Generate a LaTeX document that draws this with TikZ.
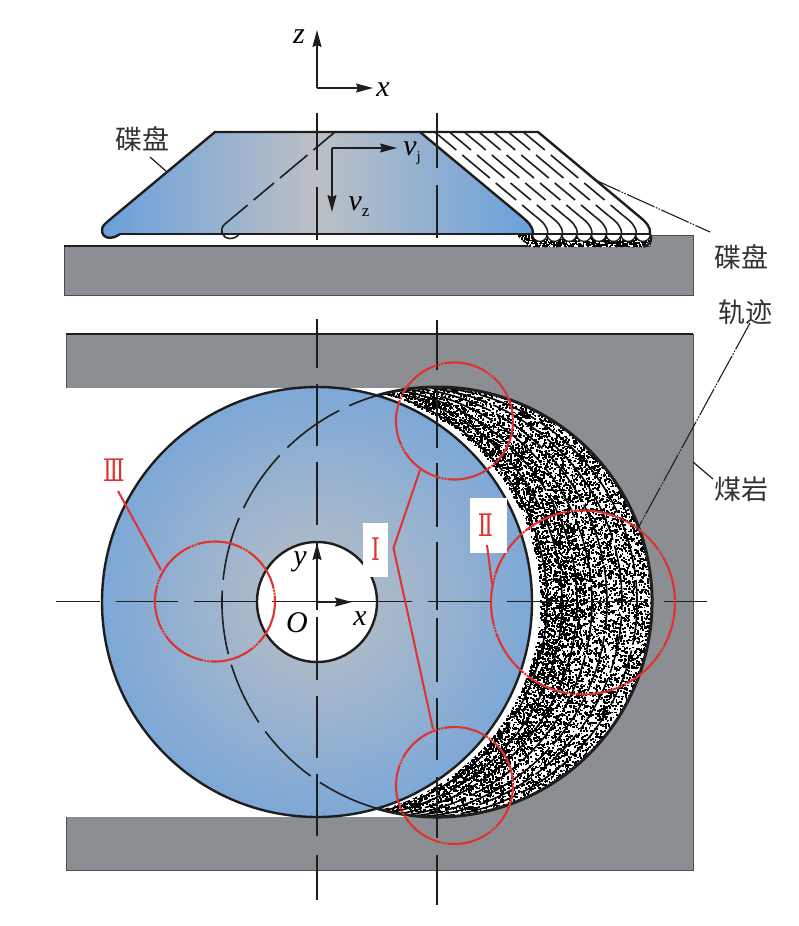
\documentclass[tikz,border=0pt]{standalone}
\usepackage{fontspec}
\setmainfont{Liberation Serif}
\newfontfamily\cjk{Noto Sans CJK SC}
\newfontfamily\romanfont{DejaVu Serif}
\usetikzlibrary{arrows.meta}
\definecolor{rockgray}{RGB}{139,142,147}
\definecolor{discblue}{RGB}{105,160,220}
\definecolor{discgray}{RGB}{188,192,197}
\definecolor{redmark}{RGB}{224,50,46}
\definecolor{inkc}{RGB}{30,30,30}
\pgfdeclareradialshading{discshade}{\pgfpointorigin}{color(0bp)=(discgray); color(33bp)=(discblue); color(50bp)=(discblue)}
\newcommand{\speck}[3]{\pgfpathrectangle{\pgfqpoint{#1pt}{-#2pt}}{\pgfqpoint{#3pt}{#3pt}}\pgfusepathqfill}
\newcommand{\romanmark}[1]{\scalebox{0.72}[1]{\romanfont #1}}
\tikzset{
  x=1pt,y=-1pt,
  axisline/.style={inkc,line width=1.5pt},
  outline/.style={inkc,line width=2.4pt,line join=round},
  thinedge/.style={inkc,line width=1.6pt},
  arrowline/.style={inkc,line width=1.4pt,-{Stealth[length=17pt,width=9pt,inset=2pt]}},
  redring/.style={redmark,line width=2.1pt,dash pattern=on 46pt off 1pt on 2pt off 1pt on 2pt off 1pt},
  redlead/.style={redmark,line width=2pt},
  leaderdd/.style={inkc,line width=1.1pt,dash pattern=on 30pt off 1.5pt on 1.5pt off 1.5pt on 1.5pt off 1.5pt},
  cjklabel/.style={font=\cjk\fontsize{27}{27}\selectfont,text=black!80,inner sep=0pt},
  redlabel/.style={font=\fontsize{31}{31}\selectfont,text=redmark,inner sep=0pt},
  varlabel/.style={font=\itshape\fontsize{30}{30}\selectfont,text=black,inner sep=0pt},
}
\begin{document}
\begin{tikzpicture}
\useasboundingbox[fill=white] (0,0) rectangle (799,926);

% ---------- side view: rock
\fill[rockgray,draw=black!70,line width=0.8pt] (64,246) -- (650,246) -- (650,235) -- (693,235) -- (693,295) -- (64,295) -- cycle;
\draw[outline] (64,246) -- (645,246);

% cut stipple under the disc
\begin{scope}
\clip (515,234) -- (650,234) -- (652,240) -- (645,247) -- (530,247) -- cycle;
\fill[white] (510,230) rectangle (655,250);
\pgfmathsetseed{11}
\pgfsetfillcolor{black}
\foreach \i in {1,...,900}{
  \pgfmathsetmacro\px{518+134*rnd}
  \pgfmathsetmacro\py{236+13*rnd}
  \speck{\px}{\py}{1.6}
}
\end{scope}
\draw[outline] (650,234) .. controls (653,240) and (650,246) .. (643,246.5);
\foreach \k in {1,...,8}{
  \pgfmathsetmacro\cx{525+14.75*\k}
  \draw[inkc,line width=1.3pt,fill=white] (\cx-7.4,234) arc[start angle=180,end angle=0,radius=7.4];
}
% successive disc positions
\foreach \k in {1,...,7}{
  \pgfmathsetmacro\s{420+14.75*\k}
  \foreach \ya/\yb in {132/150,155/178,183/200,205/216}{
    \draw[thinedge] ({\s+(\ya-132)*1.196},\ya) -- ({\s+(\yb-132)*1.196},\yb);
  }
  \draw[thinedge] ({\s+100.5},216) .. controls ({\s+108},222) and ({\s+113},226) .. ({\s+113},234);
}
\draw[outline] (420,132) -- (538,132) -- (638,215.5) .. controls (646,222) and (651,227) .. (650,234);

% main disc, side view
\shade[left color=discblue,right color=discblue,middle color=discgray]
  (215,132) -- (420,132) -- (521,216) .. controls (528,222) and (533,226) .. (533,234) -- (120,234)
  .. controls (112,240) and (102,239) .. (102,230) .. controls (102,226) and (105,224) .. (107,222) -- cycle;
\draw[outline] (107,222) -- (215,132) -- (420,132) -- (521,216) .. controls (528,222) and (533,226) .. (533,234);
\draw[outline] (120,234) .. controls (112,240) and (102,239) .. (102,230) .. controls (102,226) and (105,224) .. (107,222);
\draw[outline] (120,234) -- (650,234);

% hidden disc edge, side view
\foreach \ya/\yb in {132/150,155/178,183/200,205/225}{
  \draw[thinedge] ({335-(\ya-132)*1.196},\ya) -- ({335-(\yb-132)*1.196},\yb);
}
\draw[thinedge] (223.6,225) .. controls (220,229) and (221,238) .. (230,238.5) .. controls (234,238.5) and (237,237) .. (239,234);

% side view velocities
\coordinate (vorig) at (332,148);
\coordinate (vjtip) at (397,148);
\coordinate (vztip) at (332,212);
\draw[arrowline] (vorig) -- (vjtip);
\draw[arrowline] (vorig) -- (vztip);
\node[varlabel] (vj) at (412,153) {v\raisebox{-6pt}{\upshape\fontsize{15}{15}\selectfont j}};
\node[varlabel] (vz) at (359,207) {v\raisebox{-6pt}{\upshape\fontsize{17}{17}\selectfont z}};

% top axes
\coordinate (axo) at (317,88);
\coordinate (axz) at (317,30);
\coordinate (axx) at (373,88);
\draw[arrowline] (axo) -- (axz);
\draw[arrowline] (axo) -- (axx);
\node[varlabel] (zlab) at (299,37) {z};
\node[varlabel] (xlab) at (383,90) {x};

% ---------- plan view: rock
\fill[rockgray,draw=black!70,line width=0.8pt] (66,334) rectangle (693,870);
\draw[outline] (66,334) -- (693,334);
\fill[white] (60,388) rectangle (437,816.5);

% swept crescent
\begin{scope}
\clip (437,602) circle (215);
\fill[white] (437,602) circle (215);
\pgfmathsetseed{7}
\pgfsetfillcolor{black}
\foreach \i in {1,...,9000}{
  \pgfmathsetmacro\th{asin(-0.985+1.97*rnd)}
  \pgfmathsetmacro\tt{rnd}
  \pgfmathsetmacro\px{325+112*\tt+215*cos(\th)}
  \pgfmathsetmacro\py{602+215*sin(\th)}
  \pgfmathsetmacro\sz{1.3+0.8*rnd}
  \speck{\px}{\py}{\sz}
}
\pgfmathsetseed{23}
\foreach \i in {1,...,2200}{
  \pgfmathsetmacro\tt{rnd}
  \pgfmathsetmacro\th{asin(-0.97+1.94*rnd)}
  \pgfmathsetmacro\px{325+45*\tt+215*cos(\th)}
  \pgfmathsetmacro\py{602+215*sin(\th)}
  \speck{\px}{\py}{1.7}
}
\foreach \k/\ph in {1/0,2/20,3/40,4/10,5/30,6/50,7/15}{
  \draw[black,line width=1.6pt,dash pattern=on 58pt off 6pt,dash phase=\ph pt] (317+15*\k,602) circle (215);
}
\fill[white] (325,602) circle (215);
\end{scope}
\draw[inkc,line width=3pt] ({437+215*cos(106)},{602+215*sin(106)}) arc[start angle=106,end angle=-106,radius=215];

% main disc, plan view
\shade[shading=discshade] (317,602) circle (215);
\draw[outline] (317,602) circle (215);

% hidden disc outline
\draw[thinedge,dash pattern=on 64pt off 11pt] ({437+215*cos(106)},{602+215*sin(106)}) arc[start angle=106,end angle=254,radius=215];

% hub
\draw[outline,fill=white] (317,602) circle (60);

% centre lines
\foreach \ya/\yb in {113/170,187/240,319/368,384/446,462/525,542/610,617/680,696/758,774/836,855/900}{
  \draw[axisline] (317,\ya) -- (317,\yb);
}
\foreach \ya/\yb in {113/168,185/238,320/370,387/448,463/527,542/610,618/682,698/760,777/838,855/905}{
  \draw[axisline] (437,\ya) -- (437,\yb);
}
\foreach \xa/\xb in {56/100,116/178,194/256,272/412,428/490,507/570,586/648,664/707}{
  \draw[axisline] (\xa,601.5) -- (\xb,601.5);
}
\coordinate (hubo) at (317,602);
\coordinate (huby) at (317,543);
\coordinate (hubx) at (352,602);
\draw[arrowline] (hubo) -- (huby);
\draw[arrowline] (hubo) -- (hubx);
\node[varlabel] (ylab) at (300,562) {y};
\node[varlabel] (olab) at (297,623) {O};
\node[varlabel] (xlabb) at (360,619) {x};

% red detail circles
\draw[redring] (454.5,421) circle (58.5);
\draw[redring] (454.5,785.5) circle (58.5);
\draw[redring] (583,602.5) circle (92);
\draw[redring] (215,601.5) circle (60);

% red labels and leaders
\fill[white] (363,523) rectangle (388,577);
\fill[white] (470,498) rectangle (507,553);
\node[redlabel] (lab1) at (375.5,549) {\romanmark{Ⅰ}};
\node[redlabel] (lab2) at (485.5,525.5) {\romanmark{Ⅱ}};
\node[redlabel] (lab3) at (114,470) {\romanmark{Ⅲ}};
\coordinate (l1a) at (420,470);
\coordinate (l1b) at (393.5,548);
\coordinate (l1c) at (433,729);
\coordinate (l2a) at (487,545);
\coordinate (l2b) at (492,584);
\coordinate (l3a) at (118,491);
\coordinate (l3b) at (161,570);
\draw[redlead,line join=round] (l1a) -- (l1b) -- (l1c);
\draw[redlead] (l2a) -- (l2b);
\draw[redlead] (l3a) -- (l3b);

% black labels and leaders
\node[cjklabel] (tl1) at (142,139) {碟盘};
\node[cjklabel] (tl2) at (741,257) {碟盘};
\node[cjklabel] (tl3) at (745,312) {轨迹};
\node[cjklabel] (tl4) at (741,489) {煤岩};
\coordinate (p1) at (167,172);
\coordinate (p2) at (593,179);
\coordinate (p3) at (637,530);
\coordinate (p4) at (693,462);
\draw[inkc,line width=1.2pt] (150,157) -- (p1);
\draw[leaderdd] (p2) -- (710,232);
\draw[leaderdd] (750,323) -- (p3);
\draw[inkc,line width=1.2pt] (p4) -- (713,479);
\end{tikzpicture}
\end{document}
